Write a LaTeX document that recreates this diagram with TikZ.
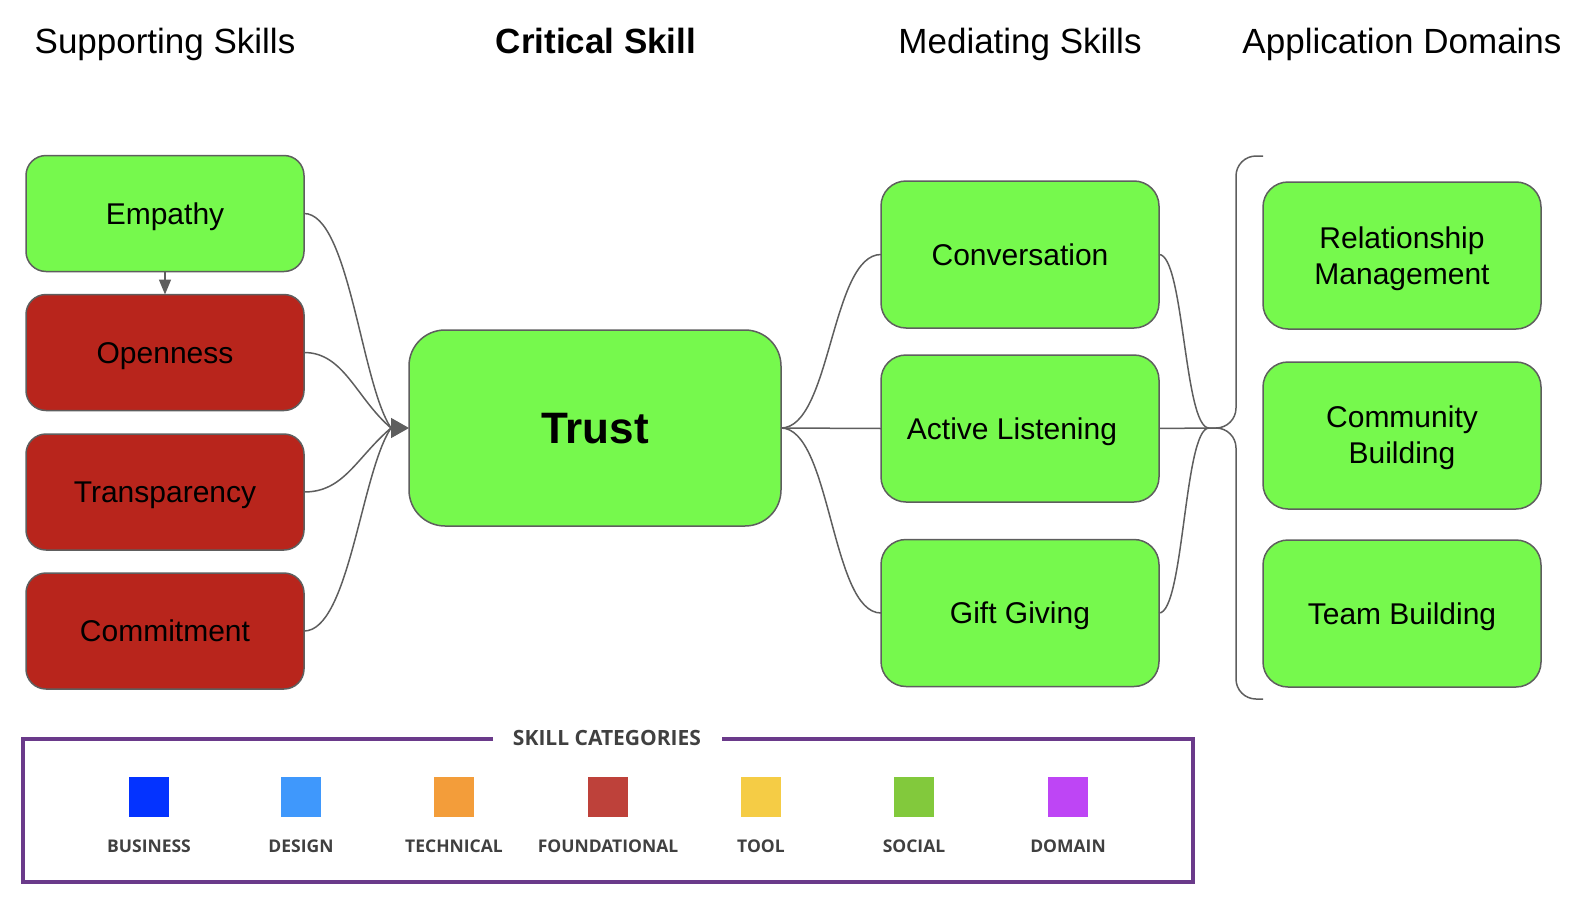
\documentclass[tikz,border=0pt]{standalone}
\usepackage{fontspec}
\setmainfont{Liberation Sans}
\newfontfamily\legendfont{Open Sans}
\usetikzlibrary{arrows.meta}
\definecolor{boxgreen}{HTML}{76F94D}
\definecolor{boxred}{HTML}{B8251C}
\definecolor{edgegray}{HTML}{5E5E5E}
\definecolor{framepurple}{HTML}{6A3A8A}
\definecolor{lgtext}{HTML}{404040}
\definecolor{cbusiness}{HTML}{0433FF}
\definecolor{cdesign}{HTML}{3F98FC}
\definecolor{ctechnical}{HTML}{F39D3A}
\definecolor{cfoundational}{HTML}{BE413A}
\definecolor{ctool}{HTML}{F5CC45}
\definecolor{csocial}{HTML}{82C93C}
\definecolor{cdomain}{HTML}{BE45F5}
\begin{document}
\begin{tikzpicture}[x=1pt,y=-1pt,
  skill/.style={draw=edgegray, line width=1.5pt, rounded corners=20pt,
    minimum width=278pt, minimum height=116pt,
    font=\fontsize{30}{36}\selectfont, align=center, inner sep=0pt, outer sep=0pt},
  oneline/.style={text height=21.5pt, text depth=0pt},
  gbox/.style={skill, fill=boxgreen},
  rbox/.style={skill, fill=boxred},
  medbox/.style={gbox, minimum height=147pt, rounded corners=25pt},
  boxtext/.style={font=\fontsize{30}{36}\selectfont, align=center, inner sep=0pt},
  conn/.style={draw=edgegray, line width=1.5pt},
  header/.style={font=\fontsize{35}{42}\selectfont, anchor=base},
  sq/.style={minimum size=40pt, inner sep=0pt},
  lglabel/.style={font=\legendfont\bfseries\fontsize{17.5}{20}\selectfont, text=lgtext, anchor=base}
]
\useasboundingbox (0,0) rectangle (1584,902);

% headers
\node[header] (h1) at (165,53) {Supporting Skills};
\node[header, font=\bfseries\fontsize{35}{42}\selectfont] (h2) at (596,53) {Critical Skill};
\node[header] (h3) at (1020,53) {Mediating Skills};
\node[header] (h4) at (1402,53) {Application Domains};

% supporting skills
\node[gbox, oneline] (emp) at (165,213.5) {Empathy};
\node[rbox, oneline] (opn) at (165,352.5) {Openness};
\node[rbox, oneline] (trn) at (165,492) {Transparency};
\node[rbox, oneline] (com) at (165,631) {Commitment};

% critical skill
\node[gbox, minimum width=372pt, minimum height=196pt, rounded corners=36pt,
  font=\bfseries\fontsize{44}{50}\selectfont, text height=31.5pt, text depth=0pt] (trust) at (595,428) {Trust};

% mediating skills
\node[medbox, oneline] (conv) at (1020,254.5) {Conversation};
\node[medbox] (actl) at (1020,428.5) {};
\node[boxtext, oneline] (actltext) at ([xshift=-8pt]actl.center) {Active Listening};
\node[medbox, oneline] (gift) at (1020,613) {Gift Giving};

% application domains
\node[medbox] (rel) at (1402,255.5) {};
\node[boxtext] (reltext) at ([yshift=-3pt]rel.center) {Relationship\\Management};
\node[medbox] (comb) at (1402,435.5) {};
\node[boxtext] (combtext) at ([yshift=-2pt]comb.center) {Community\\Building};
\node[medbox, oneline] (team) at (1402,613.5) {Team Building};

% connectors into Trust
\coordinate (mrg) at (391,428);
\coordinate (btip) at (1209,428);
\draw[conn, -{Triangle[length=15pt,width=12pt]}] (emp.south) -- (opn.north);
\draw[conn] (emp.east) .. controls +(45,0) and +(-30,-45) .. (mrg);
\draw[conn] (opn.east) .. controls +(40,0) and +(-35,-30) .. (mrg);
\draw[conn] (trn.east) .. controls +(40,0) and +(-35,30) .. (mrg);
\draw[conn] (com.east) .. controls +(45,0) and +(-30,45) .. (mrg);
\draw[conn, -{Triangle[length=18pt,width=20pt]}] (mrg) -- (trust.west);

% Trust to mediating
\draw[conn] (trust.east) .. controls +(50,0) and +(-50,0) .. (conv.west);
\draw[conn] (trust.east) -- (actl.west);
\draw[conn] (trust.east) .. controls +(50,0) and +(-50,0) .. (gift.west);

% mediating to brace
\draw[conn] (conv.east) .. controls +(25,0) and +(-25,0) .. (btip);
\draw[conn] (actl.east) -- (btip);
\draw[conn] (gift.east) .. controls +(25,0) and +(-25,0) .. (btip);

% brace
\draw[conn, rounded corners=20pt] (1263,156) -- (1236,156) -- (1236,428) -- (btip);
\draw[conn, rounded corners=20pt] (btip) -- (1236,428) -- (1236,699) -- (1263,699);

% legend frame
\draw[draw=framepurple, line width=4.5pt] (493,739) -- (23,739) -- (23,882) -- (1193,882) -- (1193,739) -- (722,739);
\node[anchor=base, font=\legendfont\bfseries\fontsize{21}{24}\selectfont, text=lgtext] (ltitle) at (607,745) {SKILL CATEGORIES};

\node[sq, fill=cbusiness] (s1) at (149,797) {};
\node[sq, fill=cdesign] (s2) at (301,797) {};
\node[sq, fill=ctechnical] (s3) at (454,797) {};
\node[sq, fill=cfoundational] (s4) at (608,797) {};
\node[sq, fill=ctool] (s5) at (761,797) {};
\node[sq, fill=csocial] (s6) at (914,797) {};
\node[sq, fill=cdomain] (s7) at (1068,797) {};

\node[lglabel] (l1) at (149,852) {BUSINESS};
\node[lglabel] (l2) at (301,852) {DESIGN};
\node[lglabel] (l3) at (454,852) {TECHNICAL};
\node[lglabel] (l4) at (608,852) {FOUNDATIONAL};
\node[lglabel] (l5) at (761,852) {TOOL};
\node[lglabel] (l6) at (914,852) {SOCIAL};
\node[lglabel] (l7) at (1068,852) {DOMAIN};
\end{tikzpicture}
\end{document}
